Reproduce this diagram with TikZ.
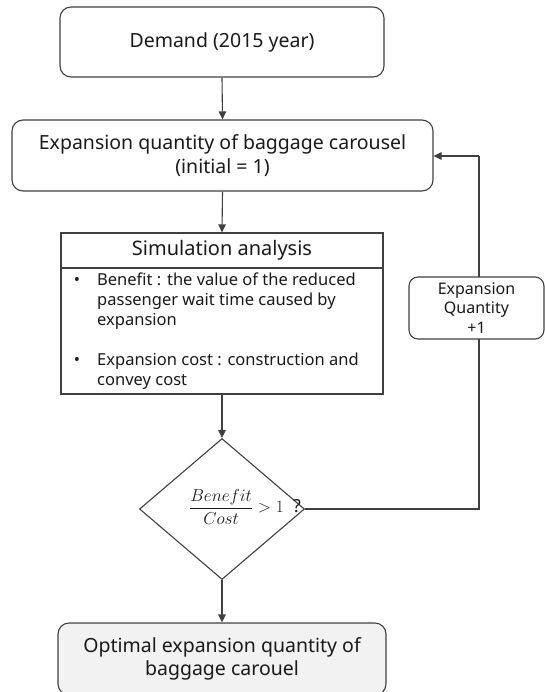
\documentclass[tikz,border=0pt]{standalone}
\usepackage{fontspec}
\setmainfont{Noto Sans}
\usetikzlibrary{shapes.geometric,arrows.meta}
\definecolor{linec}{HTML}{404040}
\definecolor{txt}{HTML}{1A1A1A}
\definecolor{finalfill}{HTML}{F2F2F2}
\tikzset{
  box/.style={draw=linec, line width=1.1pt, rounded corners=11pt, fill=white, text=txt, align=center, inner sep=0pt},
  sqbox/.style={draw=linec, line width=1.1pt, fill=white, inner sep=0pt},
  conn/.style={draw=linec, line width=1.1pt, -{Triangle[length=8pt,width=7.5pt]}},
  plain/.style={draw=linec, line width=1.1pt},
  bigtxt/.style={font=\fontsize{19.5}{23.5}\selectfont, text=txt},
  smalltxt/.style={font=\fontsize{16.5}{20}\selectfont, text=txt, inner sep=0pt},
}
\begin{document}
\begin{tikzpicture}[x=1pt,y=-1pt]
\useasboundingbox (0,0) rectangle (545,692);
\node[box, bigtxt, minimum width=324pt, minimum height=70pt] (demand) at (222,42) {Demand (2015 year)};
\node[box, bigtxt, minimum width=421pt, minimum height=71pt] (expand) at (222.5,155.5) {Expansion quantity of baggage carousel\\(initial = 1)};
\node[sqbox, minimum width=322pt, minimum height=161pt] (sim) at (222,313.5) {};
\draw[plain] (sim.west |- 0,268) -- (sim.east |- 0,268);
\node[font=\fontsize{20}{24}\selectfont, text=txt] (simtitle) at (222,250) {Simulation analysis};
\node[smalltxt, anchor=base] (b1) at (77,285) {•};
\node[smalltxt, anchor=base west, align=left] (t1) at (97,325) {Benefit : the value of the reduced\\passenger wait time caused by\\expansion};
\node[smalltxt, anchor=base] (b2) at (77,365) {•};
\node[smalltxt, anchor=base west, align=left] (t2) at (97,385) {Expansion cost : construction and\\convey cost};
\node[draw=linec, line width=1.1pt, diamond, fill=white, minimum width=165pt, minimum height=141pt, inner sep=0pt] (dec) at (222,509) {};
\node[text=txt, anchor=center, inner sep=0pt] (dectxt) at (245,507) {\fontsize{18}{22}\selectfont$\displaystyle\frac{Benefit}{Cost} > 1$\ \ ?};
\node[box, bigtxt, fill=finalfill, minimum width=328pt, minimum height=72pt] (final) at (222,659) {Optimal expansion quantity of\\baggage carouel};
\coordinate (c1) at (479,509);
\coordinate (c2) at (479,156);
\draw[plain] (dec.east) -- (c1) -- (c2);
\draw[conn] (c2) -- (expand.east |- c2);
\node[box, rounded corners=9pt, minimum width=135pt, minimum height=62pt, font=\fontsize{16}{19.5}\selectfont] (inc) at (476.5,308) {Expansion\\Quantity\\+1};
\draw[conn] (demand.south) -- (expand.north);
\draw[conn] (expand.south) -- (sim.north);
\draw[conn] (sim.south) -- (dec.north);
\draw[conn] (dec.south) -- (final.north);
\end{tikzpicture}
\end{document}
